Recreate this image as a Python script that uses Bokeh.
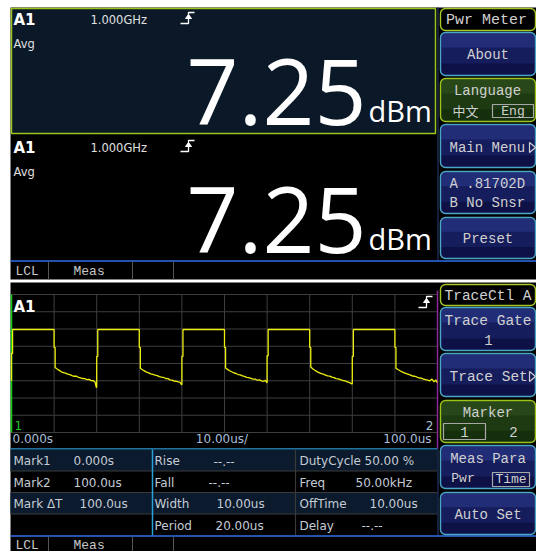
from bokeh.plotting import figure
from bokeh.models import Range1d
from bokeh.core.properties import value
from bokeh.embed import file_html
from bokeh.resources import INLINE

# ---------------- data ----------------
channel = "A1"
frequency = "1.000GHz"
mode = "Avg"
reading = "7.25"
unit = "dBm"

softkeys_top = ["Pwr Meter", "About", "Language", "Main Menu", "A .81702D", "B No Snsr", "Preset"]
lang_options = ["中文", "Eng"]
softkeys_bottom = ["TraceCtl A", "Trace Gate", "1", "Trace Set", "Marker", "Meas Para", "Auto Set"]
marker_options = ["1", "2"]
meas_options = ["Pwr", "Time"]
status_items = ["LCL", "Meas"]

# trace (time in us, level in vertical divisions 0..8)
grid_x_ticks_us = [0, 10, 20, 30, 40, 50, 60, 70, 80, 90, 100]
grid_levels = [0, 1, 2, 3, 4, 5, 6, 7, 8]
pulse_starts_us = [0, 20, 40, 60, 80]
pulse_width_us = 10
high_level = 5.97
rise_mid_levels = [4.58, 4.41, 4.41, 4.45, 4.41]
fall_mid_level = 4.93
first_low_level = 3.0
decay_offsets_us = [0.25, 0.7, 1.2, 1.7, 2.2, 2.7, 3.2, 3.7, 4.2, 4.7, 5.2, 5.7, 6.2, 6.7, 7.2, 7.7, 8.2, 8.7, 9.2, 9.6, 9.9]
decay_seg1 = [3.77, 3.68, 3.60, 3.52, 3.47, 3.44, 3.38, 3.35, 3.30, 3.26, 3.27, 3.20, 3.17, 3.13, 3.12, 3.06, 3.08, 3.01, 3.00, 2.93, 2.62]
decay_seg2 = [3.72, 3.64, 3.57, 3.50, 3.46, 3.40, 3.37, 3.32, 3.30, 3.24, 3.21, 3.19, 3.13, 3.12, 3.05, 3.04, 2.98, 2.97, 2.93, 2.90, 2.78]
decay_seg3 = [3.74, 3.66, 3.58, 3.52, 3.45, 3.42, 3.36, 3.34, 3.28, 3.25, 3.20, 3.18, 3.14, 3.10, 3.09, 3.03, 3.05, 2.99, 2.97, 3.02, 2.90]
decay_seg4 = [3.80, 3.70, 3.61, 3.53, 3.47, 3.41, 3.38, 3.33, 3.28, 3.27, 3.21, 3.18, 3.12, 3.11, 3.06, 3.02, 3.00, 2.95, 2.90, 2.86, 2.82]
decay_seg5 = [3.73, 3.65, 3.58, 3.51, 3.46, 3.41, 3.37, 3.33, 3.27, 3.26, 3.21, 3.16, 3.15, 3.09, 3.07, 3.03, 3.00, 3.10, 2.93, 3.05, 2.90]
decay_segments = [decay_seg1, decay_seg2, decay_seg3, decay_seg4, decay_seg5]

time_start_label = "0.000s"
time_div_label = "10.00us/"
time_end_label = "100.0us"

col1_labels = ["Mark1", "Mark2", "Mark ΔT", ""]
col1_values = ["0.000s", "100.0us", "100.0us", ""]
col2_labels = ["Rise", "Fall", "Width", "Period"]
col2_values = ["--.--", "--.--", "10.00us", "20.00us"]
col3_labels = ["DutyCycle", "Freq", "OffTime", "Delay"]
col3_values = ["50.00 %", "50.00kHz", "10.00us", "--.--"]

# ---------------- layout constants (screen pixels) ----------------
W, H = 536, 551
X0, Y0 = 10, 7
GRID_L, GRID_R, GRID_T, GRID_B = 11, 437, 294, 432
PX_US = (GRID_R - GRID_L) / 100.0
PX_DIV = (GRID_B - GRID_T) / 8.0

p = figure(width=W, height=H, x_range=Range1d(0, W), y_range=Range1d(H, 0),
           output_backend="svg", toolbar_location=None, min_border=0,
           x_axis_location=None, y_axis_location=None,
           background_fill_color="white", border_fill_color="white")
p.grid.visible = False
p.outline_line_color = None
p.extra_x_ranges = {"t": Range1d((0 - GRID_L) / PX_US, (W - GRID_L) / PX_US)}
p.extra_y_ranges = {"lvl": Range1d((GRID_B - H) / PX_DIV, (GRID_B - 0) / PX_DIV)}

MONO = "Liberation Mono"
SANS = "DejaVu Sans"
MID = {"Open Sans": 0.388, "DejaVu Sans": 0.346, "Liberation Mono": 0.267, "Noto Sans CJK SC": 0.38}

def box(l, r, t, b, fill, line=None, lw=1.0, radius=0, alpha=1.0):
    p.quad(left=[l], right=[r], top=[t], bottom=[b], fill_color=fill, fill_alpha=alpha,
           line_color=line, line_width=lw, border_radius=radius)

def hline(x0, x1, y, color, w=1.0):
    p.segment(x0=[x0], x1=[x1], y0=[y], y1=[y], line_color=color, line_width=w)

def vline(x, y0, y1, color, w=1.0):
    p.segment(x0=[x], x1=[x], y0=[y0], y1=[y1], line_color=color, line_width=w)

def txt(x, y, s, size, font=SANS, color="#d0d0d0", align="left", base=True, style="normal"):
    # base=True: y is the alphabetic baseline; otherwise y is the visual middle
    ym = y - MID.get(font, 0.35) * size if base else y
    p.text(x=[x], y=[ym], text=[s], text_font=value(font), text_font_size=f"{size}px",
           text_color=color, text_align=align, text_baseline="middle", text_font_style=style)

def navy_key(t, b):
    box(440, 535, t, b, "#161d5c", None, radius=5)
    h = b - t
    box(441, 534, t + 1, t + h * 0.35, "#24307a", None, radius=(4, 4, 0, 0), alpha=0.9)
    box(441, 534, t + h * 0.72, b - 1, "#0c1144", None, radius=(0, 0, 4, 4), alpha=0.9)
    box(440, 535, t, b, None, "#4ba6c6", 1.4, 5)

def green_key(t, b):
    box(440, 535, t, b, "#1e3a13", None, radius=5)
    h = b - t
    box(441, 534, t + 1, t + h * 0.35, "#2a4a1c", None, radius=(4, 4, 0, 0), alpha=0.9)
    box(441, 534, t + h * 0.72, b - 1, "#142e0c", None, radius=(0, 0, 4, 4), alpha=0.9)
    box(440, 535, t, b, None, "#9cc41c", 1.4, 5)

def trig_icon(x, y, color="white"):
    p.multi_line(xs=[[x, x + 8, x + 8, x + 14]], ys=[[y + 11, y + 11, y, y]], line_color=color, line_width=1.3)
    p.patch(x=[x + 5, x + 11, x + 8], y=[y + 6, y + 6, y + 2], fill_color=color, line_color=color)

def arrow_tri(x, y, color="#d0d0d0"):
    p.patch(x=[x, x + 6, x], y=[y - 5, y, y + 5], fill_color=None, line_color=color, line_width=1.2)

# ---------------- background ----------------
box(X0, W, Y0, 279, "black")
box(X0, W, 282, H, "black")

# ---------------- top screen: two readings ----------------
box(11, 435, 8, 133, "#0a1828", "#9cc41c", 1.5)
for dy in [0, 128]:
    txt(13, 25 + dy, channel, 15, style="bold", color="white")
    txt(90, 23 + dy, frequency, 11.5, color="#e0e0e0")
    txt(13, 47 + dy, mode, 11.5, color="#e0e0e0")
    txt(186, 127 + dy, reading, 91, font="Open Sans", color="white")
    txt(368, 121 + dy, unit, 29, font="Open Sans", color="white")
    trig_icon(180, 12 + dy)
vline(437.5, 7, 260, "#1a2a50", 1.5)

hline(X0, W, 260.5, "#2f6fe8", 1.5)
for sx in [48, 132, 173]:
    vline(sx, 261, 279, "#555555")
txt(15, 271, status_items[0], 13, font=MONO, color="#c8c8c8", base=False)
txt(73, 271, status_items[1], 13, font=MONO, color="#c8c8c8", base=False)

# softkeys top
box(440, 535, 8, 30, "black", "#a8c828", 1.4, 5)
txt(486, 19.5, softkeys_top[0], 15, font=MONO, base=False, align="center")
navy_key(32, 75)
txt(487.5, 54, softkeys_top[1], 14, font=MONO, base=False, align="center")
green_key(78, 121)
txt(487, 90.5, softkeys_top[2], 14, font=MONO, base=False, align="center")
txt(452, 110, lang_options[0], 13, font="Noto Sans CJK SC", base=False)
box(492, 533, 104, 117, None, "#a8a8a8", 1.2)
txt(512.5, 110.5, lang_options[1], 13, font=MONO, base=False, align="center")
navy_key(124, 167)
txt(449, 147, softkeys_top[3], 14, font=MONO, base=False)
arrow_tri(529, 147)
navy_key(171, 213)
txt(449, 183, softkeys_top[4], 14, font=MONO, base=False)
txt(449, 202, softkeys_top[5], 14, font=MONO, base=False)
navy_key(217, 258)
txt(487.5, 238.5, softkeys_top[6], 14, font=MONO, base=False, align="center")

# ---------------- bottom screen: trace ----------------
p.multi_line(xs=[[t, t] for t in grid_x_ticks_us], ys=[[grid_levels[0], grid_levels[-1]]] * len(grid_x_ticks_us),
             x_range_name="t", y_range_name="lvl", line_color="#3e3e3e", line_width=1)
p.multi_line(xs=[[grid_x_ticks_us[0], grid_x_ticks_us[-1]]] * len(grid_levels), ys=[[l, l] for l in grid_levels],
             x_range_name="t", y_range_name="lvl", line_color="#3e3e3e", line_width=1)
p.line(x=[grid_x_ticks_us[0]] * 2, y=[grid_levels[0], grid_levels[-1]], x_range_name="t", y_range_name="lvl",
       line_color="#10d010", line_width=1.5)
vline(437, 290, 448, "#8a2a9a", 1.5)

tx, ty = [], []
prev_low = first_low_level
for k, T in enumerate(pulse_starts_us):
    tx += [T, T, T + 0.25, T + 0.25, T + pulse_width_us, T + pulse_width_us, T + pulse_width_us + 0.25]
    ty += [prev_low, rise_mid_levels[k], rise_mid_levels[k], high_level, high_level, fall_mid_level, fall_mid_level]
    seg = decay_segments[k]
    for off, lv in zip(decay_offsets_us, seg):
        tx.append(T + pulse_width_us + off)
        ty.append(lv)
    prev_low = seg[-1]
p.line(x=tx, y=ty, x_range_name="t", y_range_name="lvl", line_color="#eeee10", line_width=1.3)

txt(13, 312, channel, 15, style="bold", color="white")
trig_icon(418, 296)
txt(14, 429, "1", 12, color="#20c020")
txt(433, 429, "2", 12, color="#b0c4dc", align="right")
txt(12, 443, time_start_label, 12, color="#a9bfd9")
txt(221.5, 443, time_div_label, 12, color="#a9bfd9", align="center")
txt(431, 443, time_end_label, 12, color="#a9bfd9", align="right")
hline(X0, 437, 448.5, "#2a9ad0", 1.5)

# measurement table
row_edges = [449, 470.5, 492, 513.5, 535]
for i in range(4):
    if i % 2 == 0:
        box(X0, 437, row_edges[i], row_edges[i + 1], "#0b1a2c")
for e in row_edges[1:4]:
    hline(X0, 437, e, "#3a3a3a")
vline(152, 449, 535, "#2aa0d8", 1.5)
vline(295, 449, 535, "#3a3a3a", 1.2)
vline(437.5, 449, 535, "#1a2a50", 1.5)
c1x = [73, 73, 79, 73]
c2x = [213, 208, 216, 215]
c3x = [364, 355, 369, 361]
TC = "#c4ccd6"
for i in range(4):
    yb = row_edges[i + 1] - 5.5
    txt(13, yb, col1_labels[i], 12, color=TC)
    txt(c1x[i], yb, col1_values[i], 12, color=TC)
    txt(154, yb, col2_labels[i], 12, color=TC)
    txt(c2x[i], yb, col2_values[i], 12, color=TC)
    txt(299, yb, col3_labels[i], 12, color=TC)
    txt(c3x[i], yb, col3_values[i], 12, color=TC)

hline(X0, W, 535.5, "#2f6fe8", 1.5)
for sx in [48, 132, 173]:
    vline(sx, 536, H, "#555555")
txt(15, 544.5, status_items[0], 13, font=MONO, color="#c8c8c8", base=False)
txt(73, 544.5, status_items[1], 13, font=MONO, color="#c8c8c8", base=False)

# softkeys bottom
box(440, 535, 284, 305, "black", "#a8c828", 1.4, 5)
txt(444, 295, softkeys_bottom[0], 14.5, font=MONO, base=False)
navy_key(307, 350)
txt(444, 320, softkeys_bottom[1], 14.5, font=MONO, base=False)
txt(488, 339, softkeys_bottom[2], 14, font=MONO, base=False, align="center")
navy_key(353, 396)
txt(449, 376, softkeys_bottom[3], 14.5, font=MONO, base=False)
arrow_tri(529, 376)
green_key(400, 442)
txt(487.5, 412, softkeys_bottom[4], 14, font=MONO, base=False, align="center")
box(443, 485, 423, 439, None, "#a8a8a8", 1.2)
txt(464, 431, marker_options[0], 14, font=MONO, base=False, align="center")
txt(513, 431, marker_options[1], 14, font=MONO, base=False, align="center")
navy_key(445, 488)
txt(487.5, 458, softkeys_bottom[5], 14, font=MONO, base=False, align="center")
txt(462.5, 477.5, meas_options[0], 13, font=MONO, base=False, align="center")
box(492, 529, 472, 486, None, "#a8a8a8", 1.2)
txt(510.5, 478.5, meas_options[1], 13, font=MONO, base=False, align="center")
navy_key(492, 534)
txt(487.5, 514, softkeys_bottom[6], 14, font=MONO, base=False, align="center")

open("out.html", "w").write(file_html(p, INLINE))
